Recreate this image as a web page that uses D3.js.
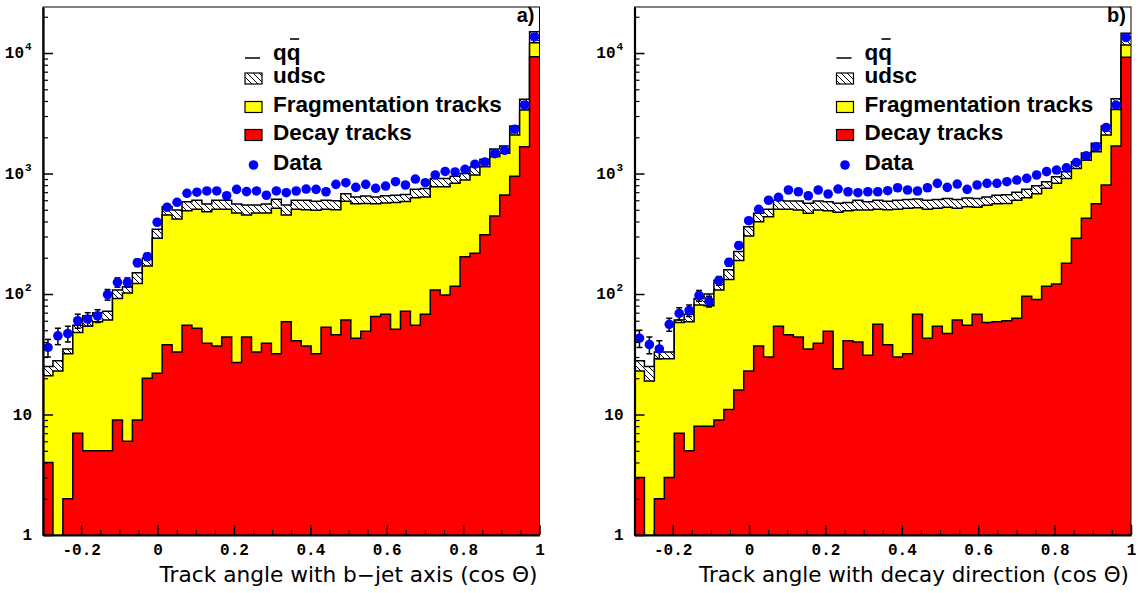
<!DOCTYPE html>
<html>
<head>
<meta charset="utf-8">
<script src="https://cdn.jsdelivr.net/npm/d3@7"></script>
<style>
  body { margin: 0; background: #fff; }
  svg { display: block; }
</style>
</head>
<body>
<svg id="chart" width="1140" height="593"></svg>
<script>
// 50 bins of cos(theta) from -0.3 to 1
const binLo = -0.3, binHi = 1.0, nBins = 50;
const xMajorTicks = [-0.2, 0, 0.2, 0.4, 0.6, 0.8, 1];
const yMajorTicks = [1, 10, 100, 1000, 10000];
const yMax = 24100;

// panel a) : track angle with b-jet axis
const decayA = [4, 0, 2, 7, 5, 5, 5, 9, 6, 9, 20, 22, 38, 33, 55, 52, 39, 37, 44, 27, 44, 33, 39, 32, 59,
  41, 37, 32, 53, 46, 61, 43, 49, 65, 68, 51, 72, 55, 68, 108, 98, 116, 204, 218, 310, 444, 663, 950, 1668, 9310];
const fragA = [17, 23, 30, 41, 49, 54, 56, 83, 96, 113, 151, 268, 414, 386, 436, 453, 443, 468, 461, 443, 408, 437, 431, 482, 393,
  464, 463, 463, 452, 454, 529, 517, 516, 495, 502, 524, 513, 575, 572, 669, 679, 714, 679, 754, 830, 936, 809, 1140, 1697, 2870];
const udscA = [4, 5, 3, 7, 12, 11, 11, 16, 13, 28, 27, 54, 79, 79, 92, 95, 76, 95, 95, 88, 96, 78, 88, 97, 96,
  95, 100, 95, 95, 95, 90, 80, 85, 80, 85, 85, 85, 110, 110, 133, 133, 120, 117, 168, 172, 220, 218, 388, 765, 2820];
const dataA = [36, 45, 47, 60, 62, 66, 99, 125, 125, 182, 204, 394, 525, 577, 685, 700, 717, 717, 654, 739, 708, 717, 660, 717, 693,
  716, 743, 739, 706, 813, 839, 768, 813, 754, 787, 855, 803, 900, 839, 972, 1040, 1030, 1083, 1195, 1245, 1460, 1555, 2328, 3700, 13600];
const errA = [6, 7, 7, 8, 8, 8, 10, 11, 11, 13, 14];

// panel b) : track angle with decay direction
const decayB = [3, 0, 2, 3, 7, 5, 8, 8, 9, 11, 16, 23, 37, 30, 54, 46, 44, 35, 39, 49, 24, 41, 40, 31, 56,
  38, 30, 32, 68, 43, 54, 47, 61, 55, 68, 58, 59, 60, 63, 96, 90, 116, 121, 180, 290, 425, 560, 803, 1690, 9210];
const fragB = [20, 19, 27, 26, 51, 54, 73, 72, 99, 121, 174, 280, 361, 408, 451, 459, 454, 432, 459, 442, 452, 450, 458, 467, 449,
  462, 475, 483, 452, 462, 461, 478, 454, 475, 457, 487, 501, 505, 537, 534, 590, 638, 708, 730, 812, 865, 957, 1287, 1710, 2440];
const udscB = [5, 6, 4, 4, 3, 9, 11, 20, 22, 27, 35, 59, 69, 67, 95, 86, 93, 99, 93, 91, 90, 84, 102, 84, 95,
  90, 95, 95, 95, 95, 95, 95, 95, 95, 95, 95, 100, 100, 100, 110, 110, 101, 111, 126, 151, 190, 263, 388, 770, 2910];
const dataB = [43, 38, 35, 56, 69, 73, 97, 87, 129, 183, 253, 406, 505, 600, 635, 730, 706, 654, 730, 676, 743, 706, 693, 706, 706,
  720, 762, 730, 716, 762, 829, 768, 818, 739, 803, 829, 829, 855, 883, 912, 972, 1036, 1069, 1115, 1236, 1403, 1668, 2410, 3700, 13450];
const errB = [7, 6, 6, 7, 8, 8, 10, 9, 11, 13, 16];

const legendLabels = ['udsc', 'Fragmentation tracks', 'Decay tracks', 'Data'];

const yTop = 7, yBot = 535;
const panels = [
  { x0: 43, x1: 539.5, decay: decayA, frag: fragA, udsc: udscA, data: dataA, err: errA,
    tag: 'a)', title: 'Track angle with b\u2212jet axis (cos \u0398)', titleW: 378 },
  { x0: 634.5, x1: 1131, decay: decayB, frag: fragB, udsc: udscB, data: dataB, err: errB,
    tag: 'b)', title: 'Track angle with decay direction (cos \u0398)', titleW: 430 }
];

const svg = d3.select('#chart');
const defs = svg.append('defs');

// diagonal hatch for the udsc component
const hatch = defs.append('pattern')
  .attr('id', 'hatch')
  .attr('patternUnits', 'userSpaceOnUse')
  .attr('width', 6).attr('height', 6);
hatch.append('rect').attr('width', 6).attr('height', 6).attr('fill', '#fff');
hatch.append('path')
  .attr('d', 'M-1,-1 L7,7 M-1,5 L1,7 M5,-1 L7,1')
  .attr('stroke', '#000').attr('stroke-width', 1);

const monoFont = '"Liberation Mono", "DejaVu Sans Mono", monospace';
const boldFont = '"Liberation Sans", Arial, sans-serif';

function drawPanel(p, idx) {
  const x = d3.scaleLinear().domain([binLo, binHi]).range([p.x0, p.x1]);
  const y = d3.scaleLog().domain([1, yMax]).range([yBot, yTop]);
  const edges = d3.range(nBins + 1).map(i => binLo + i * (binHi - binLo) / nBins);
  const yv = v => (v > 0 ? y(v) : yBot + 5);

  const clipId = 'clip' + idx;
  defs.append('clipPath').attr('id', clipId)
    .append('rect')
    .attr('x', p.x0).attr('y', yTop)
    .attr('width', p.x1 - p.x0).attr('height', yBot - yTop);

  const g = svg.append('g');
  const plot = g.append('g').attr('clip-path', `url(#${clipId})`);

  // stack the three MC components
  const redTop = p.decay;
  const yelTop = p.decay.map((d, i) => d + p.frag[i]);
  const totTop = yelTop.map((d, i) => d + p.udsc[i]);

  const steps = vals => {
    const pts = vals.map((v, i) => [edges[i], v]);
    pts.push([edges[nBins], vals[nBins - 1]]);
    return pts;
  };

  const area = d3.area()
    .x(d => x(d[0]))
    .y0(yBot + 5)
    .y1(d => yv(d[1]))
    .curve(d3.curveStepAfter);
  const line = d3.line()
    .x(d => x(d[0]))
    .y(d => yv(d[1]))
    .curve(d3.curveStepAfter);

  const layers = [
    { vals: totTop, fill: 'url(#hatch)' },
    { vals: yelTop, fill: '#ffff00' },
    { vals: redTop, fill: '#ff0000' }
  ];
  layers.forEach(l => {
    plot.append('path')
      .datum(steps(l.vals))
      .attr('fill', l.fill)
      .attr('d', area);
    plot.append('path')
      .datum(steps(l.vals))
      .attr('fill', 'none')
      .attr('stroke', '#000')
      .attr('stroke-width', 1.5)
      .attr('d', line);
  });

  // data points with error bars
  const centers = edges.slice(0, nBins).map((e, i) => (e + edges[i + 1]) / 2);
  plot.selectAll('.err')
    .data(p.err)
    .enter()
    .append('g')
    .each(function (e, i) {
      const cx = x(centers[i]);
      const gg = d3.select(this);
      gg.append('line')
        .attr('x1', cx).attr('x2', cx)
        .attr('y1', y(p.data[i] - e)).attr('y2', y(p.data[i] + e))
        .attr('stroke', '#000').attr('stroke-width', 1.5);
      [p.data[i] - e, p.data[i] + e].forEach(v => {
        gg.append('line')
          .attr('x1', cx - 3).attr('x2', cx + 3)
          .attr('y1', y(v)).attr('y2', y(v))
          .attr('stroke', '#000').attr('stroke-width', 1.5);
      });
    });
  plot.selectAll('circle')
    .data(p.data)
    .enter()
    .append('circle')
    .attr('cx', (d, i) => x(centers[i]))
    .attr('cy', d => y(d))
    .attr('r', 4.8)
    .attr('fill', '#0000ff');

  // frame
  g.append('rect')
    .attr('x', p.x0).attr('y', yTop)
    .attr('width', p.x1 - p.x0).attr('height', yBot - yTop)
    .attr('fill', 'none').attr('stroke', '#000').attr('stroke-width', 1);

  // y axis: minor and major ticks pointing inwards
  const yMinor = [];
  [1, 10, 100, 1000, 10000].forEach(dec => {
    for (let k = 2; k <= 9; k++) if (dec * k < yMax) yMinor.push(dec * k);
  });
  g.append('g')
    .attr('transform', `translate(${p.x0},0)`)
    .call(d3.axisLeft(y).tickValues(yMinor).tickSize(-5).tickSizeOuter(0).tickFormat(''))
    .call(a => a.select('.domain').remove())
    .call(a => a.selectAll('line').attr('stroke-width', 1.2));
  const yAx = g.append('g')
    .attr('transform', `translate(${p.x0},0)`)
    .call(d3.axisLeft(y).tickValues(yMajorTicks).tickSize(-10).tickSizeOuter(0).tickFormat(''));
  yAx.select('.domain').attr('stroke-width', 2.2);
  yAx.selectAll('line').attr('stroke-width', 1.5);

  yMajorTicks.forEach(v => {
    const ty = y(v);
    const exp = Math.round(Math.log10(v));
    const lx = p.x0 - 11;
    if (exp <= 1) {
      g.append('text')
        .attr('x', lx).attr('y', ty + 5)
        .attr('text-anchor', 'end')
        .attr('font-family', monoFont).attr('font-size', 16).attr('font-weight', 'bold')
        .text(v === 1 ? '1' : '10');
    } else {
      g.append('text')
        .attr('x', lx - 8).attr('y', ty + 5)
        .attr('text-anchor', 'end')
        .attr('font-family', monoFont).attr('font-size', 16).attr('font-weight', 'bold')
        .text('10');
      g.append('text')
        .attr('x', lx - 7).attr('y', ty - 3)
        .attr('font-family', monoFont).attr('font-size', 11).attr('font-weight', 'bold')
        .text(String(exp));
    }
  });

  // x axis: minor every 0.05, major every 0.2
  const xMinor = d3.range(-0.25, 1.0001, 0.05).filter(v => !xMajorTicks.some(m => Math.abs(m - v) < 1e-6));
  g.append('g')
    .attr('transform', `translate(0,${yBot})`)
    .call(d3.axisBottom(x).tickValues(xMinor).tickSize(-5).tickSizeOuter(0).tickFormat(''))
    .call(a => a.select('.domain').remove())
    .call(a => a.selectAll('line').attr('stroke-width', 1.2));
  const xAx = g.append('g')
    .attr('transform', `translate(0,${yBot})`)
    .call(d3.axisBottom(x).tickValues(xMajorTicks).tickSize(-10).tickSizeOuter(0).tickPadding(9)
      .tickFormat(d => (d === 0 || d === 1) ? String(d) : d3.format('.1f')(d).replace('\u2212', '-')));
  xAx.select('.domain').attr('stroke-width', 2.2);
  xAx.selectAll('line').attr('stroke-width', 1.5);
  xAx.selectAll('text')
    .attr('font-family', monoFont).attr('font-size', 16).attr('font-weight', 'bold')
    .attr('fill', '#000');

  // axis title and panel tag
  g.append('text')
    .attr('x', p.x1 - 2).attr('y', 582)
    .attr('text-anchor', 'end')
    .attr('font-family', '"DejaVu Sans", sans-serif').attr('font-size', 20.5)
    .attr('textLength', p.titleW).attr('lengthAdjust', 'spacingAndGlyphs')
    .text(p.title);
  g.append('text')
    .attr('x', p.x1 - 5).attr('y', 22)
    .attr('text-anchor', 'end')
    .attr('font-family', boldFont).attr('font-weight', 'bold').attr('font-size', 20)
    .text(p.tag);

  // legend
  const lx = p.x0 + 202, tx = p.x0 + 230;
  const leg = g.append('g');
  const legText = (yb, s) => leg.append('text')
    .attr('x', tx).attr('y', yb)
    .attr('font-family', boldFont).attr('font-weight', 'bold').attr('font-size', 22.5)
    .text(s);

  leg.append('line')
    .attr('x1', lx).attr('x2', lx + 15).attr('y1', 58).attr('y2', 58)
    .attr('stroke', '#000').attr('stroke-width', 1.5);
  const qq = legText(60, 'qq');
  const qw = qq.node().getComputedTextLength();
  leg.append('line')
    .attr('x1', tx + qw * 0.62).attr('x2', tx + qw * 0.95)
    .attr('y1', 39).attr('y2', 39)
    .attr('stroke', '#000').attr('stroke-width', 1.6);

  const boxes = [
    { y: 73, fill: 'url(#hatch)', base: 83 },
    { y: 101.5, fill: '#ffff00', base: 112 },
    { y: 129.5, fill: '#ff0000', base: 140 }
  ];
  boxes.forEach((b, i) => {
    leg.append('rect')
      .attr('x', lx).attr('y', b.y).attr('width', 17).attr('height', 11)
      .attr('fill', b.fill).attr('stroke', '#000').attr('stroke-width', 1.2);
    legText(b.base, legendLabels[i]);
  });
  leg.append('circle')
    .attr('cx', lx + 8.5).attr('cy', 165).attr('r', 4.8)
    .attr('fill', '#0000ff');
  legText(170, legendLabels[3]);
}

panels.forEach(drawPanel);
</script>
</body>
</html>
